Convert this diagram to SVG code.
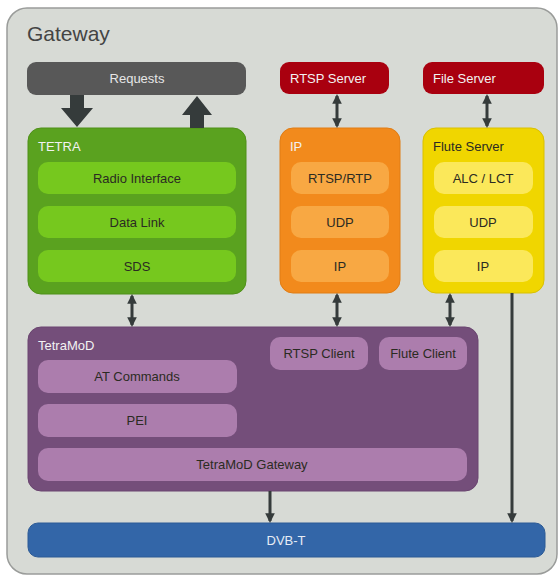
<svg xmlns="http://www.w3.org/2000/svg" width="560" height="576" viewBox="0 0 560 576">
<defs>
<style>
text{font-family:"Liberation Sans",Arial,sans-serif;font-size:13px}
.c{text-anchor:middle}
.w{fill:#f2f2f2}
.d{fill:#2b2b22}
.ln{stroke:#353b3b;stroke-width:3;fill:none}
</style>
<marker id="ah" viewBox="0 0 10 10" refX="8" refY="5" markerWidth="3.2" markerHeight="3.2" orient="auto-start-reverse">
<path d="M0,0 L10,5 L0,10 Z" fill="#353b3b"/>
</marker>
</defs>
<rect width="560" height="576" fill="#ffffff"/>
<g id="gateway">
<rect x="7" y="8" width="550" height="566" rx="20" fill="#d7dad5" stroke="#9a9c9a" stroke-width="1.5"/>
<text x="27" y="41" style="font-size:21px" fill="#444">Gateway</text>
</g>
<g id="requests">
<rect x="27" y="62" width="219" height="33" rx="9" fill="#585858"/>
<text x="137" y="83" class="c" fill="#e6e6e6">Requests</text>
</g>
<g id="rtsp-server">
<rect x="280" y="62" width="109" height="32" rx="9" fill="#a9000f"/>
<text x="290" y="83" class="w">RTSP Server</text>
</g>
<g id="file-server">
<rect x="423" y="62" width="121" height="32" rx="9" fill="#a9000f"/>
<text x="433" y="83" class="w">File Server</text>
</g>
<g id="tetra">
<rect x="28" y="128" width="218" height="166" rx="13" fill="#5aa21f" stroke="#4f9019" stroke-width="1"/>
<text x="38" y="151" class="w">TETRA</text>
<rect x="38" y="162" width="198" height="32" rx="10" fill="#76c81e"/>
<text x="137" y="183" class="c d">Radio Interface</text>
<rect x="38" y="206" width="198" height="32" rx="10" fill="#76c81e"/>
<text x="137" y="227" class="c d">Data Link</text>
<rect x="38" y="250" width="198" height="32" rx="10" fill="#76c81e"/>
<text x="137" y="271" class="c d">SDS</text>
</g>
<g id="ip">
<rect x="280" y="128" width="120" height="165" rx="13" fill="#f28a1c" stroke="#e07c14" stroke-width="1"/>
<text x="290" y="151" class="w">IP</text>
<rect x="291" y="162" width="98" height="32" rx="10" fill="#f8a843"/>
<text x="340" y="183" class="c d">RTSP/RTP</text>
<rect x="291" y="206" width="98" height="32" rx="10" fill="#f8a843"/>
<text x="340" y="227" class="c d">UDP</text>
<rect x="291" y="250" width="98" height="32" rx="10" fill="#f8a843"/>
<text x="340" y="271" class="c d">IP</text>
</g>
<g id="flute-server">
<rect x="423" y="128" width="121" height="165" rx="13" fill="#f0d600" stroke="#d9c000" stroke-width="1"/>
<text x="433" y="151" class="d">Flute Server</text>
<rect x="434" y="162" width="99" height="32" rx="10" fill="#fbe85a"/>
<text x="483" y="183" class="c d">ALC / LCT</text>
<rect x="434" y="206" width="99" height="32" rx="10" fill="#fbe85a"/>
<text x="483" y="227" class="c d">UDP</text>
<rect x="434" y="250" width="99" height="32" rx="10" fill="#fbe85a"/>
<text x="483" y="271" class="c d">IP</text>
</g>
<g id="tetramod">
<rect x="28" y="327" width="450" height="164" rx="13" fill="#744e7a" stroke="#6a4570" stroke-width="1"/>
<text x="38" y="350" class="w">TetraMoD</text>
<rect x="270" y="337" width="98" height="33" rx="10" fill="#ac7dad"/>
<text x="319" y="358" class="c d">RTSP Client</text>
<rect x="379" y="337" width="88" height="33" rx="10" fill="#ac7dad"/>
<text x="423" y="358" class="c d">Flute Client</text>
<rect x="38" y="360" width="199" height="33" rx="10" fill="#ac7dad"/>
<text x="137" y="381" class="c d">AT Commands</text>
<rect x="38" y="404" width="199" height="33" rx="10" fill="#ac7dad"/>
<text x="137" y="425" class="c d">PEI</text>
<rect x="38" y="448" width="429" height="33" rx="10" fill="#ac7dad"/>
<text x="252" y="469" class="c d">TetraMoD Gateway</text>
</g>
<g id="dvbt">
<rect x="28" y="523" width="517" height="34" rx="10" fill="#3366a8" stroke="#2d5b96" stroke-width="1"/>
<text x="286" y="545" class="c" fill="#e6ecf5">DVB-T</text>
</g>
<g id="connectors">
<path d="M70,95 H84 V108 H93 L77,127 L61,108 H70 Z" fill="#353b3b"/>
<path d="M190,128 V115 H182 L197,96 L212,115 H204 V128 Z" fill="#353b3b"/>
<line x1="337" y1="96" x2="337" y2="126" class="ln" marker-start="url(#ah)" marker-end="url(#ah)"/>
<line x1="487" y1="96" x2="487" y2="126" class="ln" marker-start="url(#ah)" marker-end="url(#ah)"/>
<line x1="132" y1="296" x2="132" y2="325" class="ln" marker-start="url(#ah)" marker-end="url(#ah)"/>
<line x1="337" y1="295" x2="337" y2="325" class="ln" marker-start="url(#ah)" marker-end="url(#ah)"/>
<line x1="450" y1="295" x2="450" y2="325" class="ln" marker-start="url(#ah)" marker-end="url(#ah)"/>
<line x1="270" y1="491" x2="270" y2="521" class="ln" stroke-width="2.5" marker-end="url(#ah)"/>
<line x1="512" y1="293" x2="512" y2="521" class="ln" stroke-width="2.5" marker-end="url(#ah)"/>
</g>
</svg>
